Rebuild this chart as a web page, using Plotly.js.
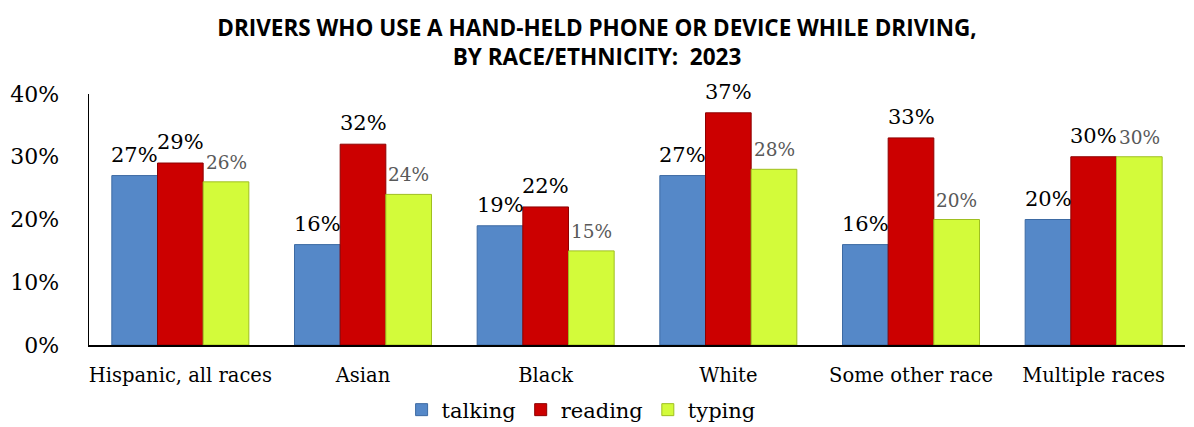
<!DOCTYPE html>
<html>
<head>
<meta charset="utf-8">
<script src="https://cdn.plot.ly/plotly-3.0.1.min.js"></script>
<style>html,body{margin:0;padding:0;background:#fff;}#chart{width:1194px;height:427px;}</style>
</head>
<body>
<div id="chart"></div>
<script>
const categories = ["Hispanic, all races", "Asian", "Black", "White", "Some other race", "Multiple races"];
const talking = [0.27, 0.16, 0.19, 0.27, 0.16, 0.20];
const reading = [0.29, 0.32, 0.22, 0.37, 0.33, 0.30];
const typing  = [0.26, 0.24, 0.15, 0.28, 0.20, 0.30];
const yTickVals = [0, 0.1, 0.2, 0.3, 0.4];
const yTickText = ["0%", "10%", "20%", "30%", "40%"];

const serif = "DejaVu Serif, serif";
const BARGAP = 0.25;
const seriesDefs = [
  {name: "talking", vals: talking, color: "#5588c8", line: "#3d6aa3", label: "#000000", size: 21},
  {name: "reading", vals: reading, color: "#cc0000", line: "#8e0000", label: "#000000", size: 21},
  {name: "typing",  vals: typing,  color: "#d3fb3a", line: "#9fbf20", label: "#595959", size: 18.5}
];
const data = seriesDefs.map(s => ({
  type: "bar", name: s.name, x: categories, y: s.vals,
  marker: {color: s.color, line: {color: s.line, width: 1}},
  hoverinfo: "skip"
}));
// value labels above each bar, placed through the axis scales
const barW = (1 - BARGAP) / seriesDefs.length;
const annotations = [];
seriesDefs.forEach((s, k) => {
  s.vals.forEach((v, i) => {
    annotations.push({
      x: i + (k - (seriesDefs.length - 1) / 2) * barW, y: v,
      xref: "x", yref: "y", xanchor: "center", yanchor: "bottom",
      yshift: 7, showarrow: false,
      text: Math.round(v * 100) + "%",
      font: {family: serif, size: s.size, color: s.label}
    });
  });
});
const layout = {
  width: 1194, height: 427,
  margin: {l: 89, r: 9, t: 94, b: 82},
  paper_bgcolor: "#ffffff", plot_bgcolor: "#ffffff",
  title: {
    text: "<b>DRIVERS WHO USE A HAND-HELD PHONE OR DEVICE WHILE DRIVING,<br>BY RACE/ETHNICITY:  2023</b>",
    font: {family: "Open Sans, sans-serif", size: 22.5, color: "#000000"},
    x: 0.5, xanchor: "center", xref: "container",
    y: 1 - 36 / 427, yanchor: "middle", yref: "container"
  },
  barmode: "group", bargap: BARGAP, bargroupgap: 0,
  showlegend: true,
  legend: {
    orientation: "h", x: 0.449, xanchor: "center", xref: "paper",
    y: 1 - 410 / 427, yanchor: "middle", yref: "container",
    font: {family: serif, size: 21, color: "#000000"},
    itemwidth: 30, tracegroupgap: 0
  },
  annotations: annotations,
  xaxis: {
    type: "category", showline: true, linecolor: "#000000", linewidth: 1.5,
    ticks: "", showgrid: false, zeroline: false, ticklabelstandoff: 12,
    tickfont: {family: serif, size: 19.5, color: "#000000"}
  },
  yaxis: {
    range: [0, 0.4], tickvals: yTickVals, ticktext: yTickText,
    showline: true, linecolor: "#000000", linewidth: 1.5,
    ticks: "", showgrid: false, zeroline: false, ticklabelstandoff: 24,
    tickfont: {family: serif, size: 22, color: "#000000"}
  },
  font: {family: serif}
};
Plotly.newPlot("chart", data, layout, {displayModeBar: false, staticPlot: true});
</script>
</body>
</html>
